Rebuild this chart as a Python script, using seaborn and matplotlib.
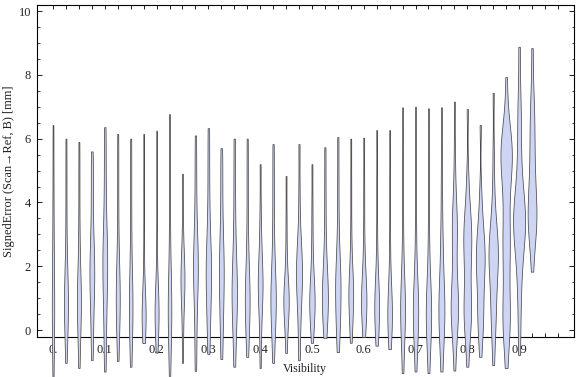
import numpy as np
import pandas as pd
import matplotlib
matplotlib.use("Agg")
import matplotlib.pyplot as plt
import seaborn as sns
from matplotlib.ticker import FixedLocator, MultipleLocator

# visibility bins (one violin per bin)
visibility = [0.0, 0.025, 0.05, 0.075, 0.1, 0.125, 0.15, 0.175, 0.2, 0.225,
              0.25, 0.275, 0.3, 0.325, 0.35, 0.375, 0.4, 0.425, 0.45, 0.475,
              0.5, 0.525, 0.55, 0.575, 0.6, 0.625, 0.65, 0.675, 0.7, 0.725,
              0.75, 0.775, 0.8, 0.825, 0.85, 0.875, 0.9, 0.925]

# signed error samples [mm] (min, bulk, tail to max)
v000 = [-1.47, -0.6, 0.0, 0.5, 0.9, 1.4, 2.0, 2.8, 3.8, 5.0, 6.43]
v025 = [-1.03, -0.3, 0.2, 0.5, 0.8, 1.0, 1.3, 1.7, 2.3, 3.4, 4.7, 6.0]
v050 = [-1.19, -0.4, 0.2, 0.5, 0.8, 1.0, 1.3, 1.7, 2.3, 3.3, 4.6, 5.9]
v075 = [-0.94, -0.1, 0.6, 1.1, 1.5, 1.8, 2.1, 2.5, 3.0, 3.9, 4.8, 5.6]
v100 = [-1.3, -0.3, 0.5, 1.1, 1.6, 2.0, 2.3, 2.7, 3.2, 4.1, 5.2, 6.36]
v125 = [-0.97, -0.2, 0.3, 0.6, 0.9, 1.2, 1.5, 1.9, 2.5, 3.6, 4.9, 6.15]
v150 = [-1.15, -0.5, 0.1, 0.4, 0.7, 1.0, 1.3, 1.8, 2.6, 3.7, 4.9, 6.0]
v175 = [-0.41, 0.0, 0.2, 0.35, 0.45, 0.55, 0.7, 0.9, 1.5, 2.8, 4.5, 6.15]
v200 = [-0.71, -0.1, 0.2, 0.4, 0.5, 0.65, 0.8, 1.0, 1.6, 2.9, 4.6, 6.25]
v225 = [-1.47, -0.6, 0.0, 0.3, 0.6, 0.9, 1.2, 1.7, 2.6, 3.9, 5.3, 6.77]
v250 = [-1.03, -0.2, 0.5, 0.9, 1.2, 1.4, 1.6, 1.8, 2.0, 2.3, 2.7, 3.6, 4.9]
v275 = [-1.28, -0.3, 0.6, 1.2, 1.6, 1.9, 2.2, 2.5, 3.0, 3.8, 4.9, 6.1]
v300 = [-0.75, 0.0, 0.6, 1.1, 1.5, 1.8, 2.1, 2.5, 3.0, 3.9, 5.1, 6.33]
v325 = [-0.91, -0.1, 0.5, 1.0, 1.4, 1.8, 2.1, 2.5, 3.0, 3.8, 4.8, 5.7]
v350 = [-1.15, -0.3, 0.3, 0.7, 1.0, 1.3, 1.6, 2.0, 2.6, 3.5, 4.7, 6.0]
v375 = [-0.84, -0.2, 0.3, 0.6, 0.9, 1.1, 1.4, 1.8, 2.4, 3.4, 4.7, 6.0]
v400 = [-1.19, -0.3, 0.4, 0.8, 1.1, 1.3, 1.5, 1.7, 2.0, 2.4, 2.9, 3.8, 5.2]
v425 = [-1.03, -0.2, 0.3, 0.6, 0.9, 1.1, 1.4, 1.8, 2.4, 3.4, 4.6, 5.83]
v450 = [-0.72, -0.1, 0.3, 0.55, 0.75, 0.9, 1.05, 1.2, 1.4, 1.8, 2.5, 3.5, 4.83]
v475 = [-0.95, -0.1, 0.6, 1.0, 1.3, 1.6, 1.8, 2.0, 2.3, 2.6, 3.1, 4.3, 5.83]
v500 = [-0.4, 0.1, 0.4, 0.6, 0.8, 0.95, 1.1, 1.3, 1.6, 2.1, 2.9, 3.9, 5.2]
v525 = [-0.25, 0.2, 0.5, 0.8, 1.0, 1.2, 1.5, 1.8, 2.3, 3.2, 4.4, 5.73]
v550 = [-0.69, 0.0, 0.3, 0.7, 1.1, 1.4, 1.6, 1.9, 2.4, 3.3, 4.6, 6.05]
v575 = [-0.4, 0.2, 0.6, 0.9, 1.05, 1.2, 1.35, 1.6, 2.1, 3.1, 4.5, 6.0]
v600 = [-0.22, 0.2, 0.5, 0.75, 0.9, 1.05, 1.25, 1.5, 2.0, 3.0, 4.4, 6.03]
v625 = [-0.49, 0.0, 0.3, 0.5, 0.7, 0.85, 1.05, 1.3, 1.8, 2.9, 4.5, 6.27]
v650 = [-0.6, -0.1, 0.15, 0.35, 0.5, 0.65, 0.85, 1.1, 1.7, 2.9, 4.5, 6.27]
v675 = [-1.35, -0.4, 0.1, 0.35, 0.6, 0.8, 1.0, 1.3, 2.0, 3.3, 5.0, 6.98]
v700 = [-1.3, -0.4, 0.1, 0.35, 0.55, 0.7, 0.9, 1.2, 1.9, 3.2, 5.0, 7.0]
v725 = [-1.35, -0.4, 0.0, 0.3, 0.5, 0.65, 0.85, 1.2, 1.9, 3.2, 5.0, 6.95]
v750 = [-1.3, -0.4, 0.1, 0.4, 0.6, 0.8, 1.1, 1.6, 2.4, 3.2, 4.8, 6.98]
v775 = [-1.27, -0.5, -0.1, 0.2, 0.4, 0.55, 0.7, 0.85, 1.0, 1.2, 1.5, 1.9,
        2.4, 2.8, 3.1, 3.3, 3.5, 3.8, 4.4, 5.4, 7.16]
v800 = [-1.15, -0.3, 0.0, 0.25, 0.45, 0.65, 0.85, 1.1, 1.4, 1.8, 2.1, 2.4,
        2.6, 2.8, 3.0, 3.2, 3.4, 3.7, 4.1, 4.9, 6.93]
v825 = [-0.84, -0.2, 0.1, 0.35, 0.6, 0.9, 1.2, 1.5, 1.7, 1.9, 2.1, 2.3,
        2.4, 2.6, 2.8, 3.0, 3.3, 3.7, 4.4, 6.43]
v850 = [-1.1, -0.3, 0.1, 0.4, 0.7, 1.0, 1.3, 1.6, 1.8, 2.0, 2.15, 2.3,
        2.45, 2.6, 2.75, 2.9, 3.1, 3.4, 3.8, 4.5, 5.6, 7.44]
v875 = [-1.19, -0.3, 0.05, 0.25, 0.45, 0.7, 1.1, 1.7, 2.1, 2.4, 2.7, 3.0,
        3.3, 3.7, 4.2, 4.7, 5.0, 5.2, 5.35, 5.5, 5.6, 5.75, 5.9, 6.1,
        6.5, 7.93]
v900 = [-0.78, 0.3, 1.1, 1.7, 2.2, 2.6, 2.85, 3.05, 3.2, 3.35, 3.5, 3.65,
        3.8, 4.0, 4.3, 4.7, 5.3, 6.0, 6.7, 7.3, 8.88]
v925 = [1.83, 2.6, 2.9, 3.15, 3.35, 3.5, 3.7, 3.9, 4.1, 4.4, 4.7, 5.0,
        5.4, 5.8, 6.2, 6.6, 7.0, 7.6, 8.84]

signed_error = [v000, v025, v050, v075, v100, v125, v150, v175, v200, v225,
                v250, v275, v300, v325, v350, v375, v400, v425, v450, v475,
                v500, v525, v550, v575, v600, v625, v650, v675, v700, v725,
                v750, v775, v800, v825, v850, v875, v900, v925]

# relative number of samples per bin (sets violin width)
n_samples = [12, 20, 20, 24, 24, 20, 18, 20, 20, 18,
             20, 24, 27, 24, 27, 24, 24, 27, 27, 30,
             27, 30, 27, 24, 27, 24, 23, 24, 27, 27,
             30, 37, 40, 44, 47, 57, 60, 44]

x_ticks = [0.0, 0.1, 0.2, 0.3, 0.4, 0.5, 0.6, 0.7, 0.8, 0.9]
x_labels = ['0.', '0.1', '0.2', '0.3', '0.4', '0.5', '0.6', '0.7', '0.8', '0.9']

sns.set_style("ticks")
plt.rcParams['font.family'] = ['Liberation Serif', 'DejaVu Serif']

fig, ax = plt.subplots(figsize=(5.76, 3.77), dpi=100)
fig.subplots_adjust(left=0.0637, right=0.9965, bottom=0.106, top=0.9875)

max_n = max(n_samples)
for vis, vals, n in zip(visibility, signed_error, n_samples):
    df = pd.DataFrame({'Visibility': vis, 'err': vals})
    sns.violinplot(data=df, x='Visibility', y='err', native_scale=True, orient='x',
                   density_norm='width', width=0.0232 * n / max_n, cut=0,
                   bw_adjust=0.6, inner=None, color='#cdd4f4', saturation=1,
                   linecolor='#4a4a4a', linewidth=0.55, ax=ax)

# tails run past the frame like in the original
for coll in ax.collections:
    coll.set_clip_on(False)
    coll.set_zorder(3)
    coll.set_joinstyle('round')

ax.set_xlim(-0.0315, 1.006)
ax.set_ylim(-0.22, 10.2)

ax.set_xticks(x_ticks)
ax.set_xticklabels(x_labels)
ax.xaxis.set_minor_locator(FixedLocator(np.arange(0, 0.99, 0.025)))
ax.yaxis.set_major_locator(MultipleLocator(2))
ax.yaxis.set_minor_locator(MultipleLocator(0.5))

ax.tick_params(axis='x', which='both', direction='in', top=True, bottom=True,
               length=2.9, width=0.7, pad=5, labelsize=9, colors='#222222')
ax.tick_params(axis='y', which='major', direction='in', left=True, right=True,
               length=3.4, width=0.7, pad=4, labelsize=9, colors='#222222')
ax.tick_params(axis='y', which='minor', direction='in', left=True, right=True,
               length=1.8, width=0.6)

for sp in ax.spines.values():
    sp.set_visible(True)
    sp.set_color('black')
    sp.set_linewidth(0.8)

ax.set_xlabel('Visibility', fontsize=8.6, color='#222222')
ax.set_ylabel('SignedError (Scan\u2192Ref, B) [mm]', fontsize=8.9, color='#222222')
ax.xaxis.set_label_coords(0.5, -0.078)
ax.yaxis.set_label_coords(-0.04, 0.5)

plt.savefig('out.png', dpi=100)
